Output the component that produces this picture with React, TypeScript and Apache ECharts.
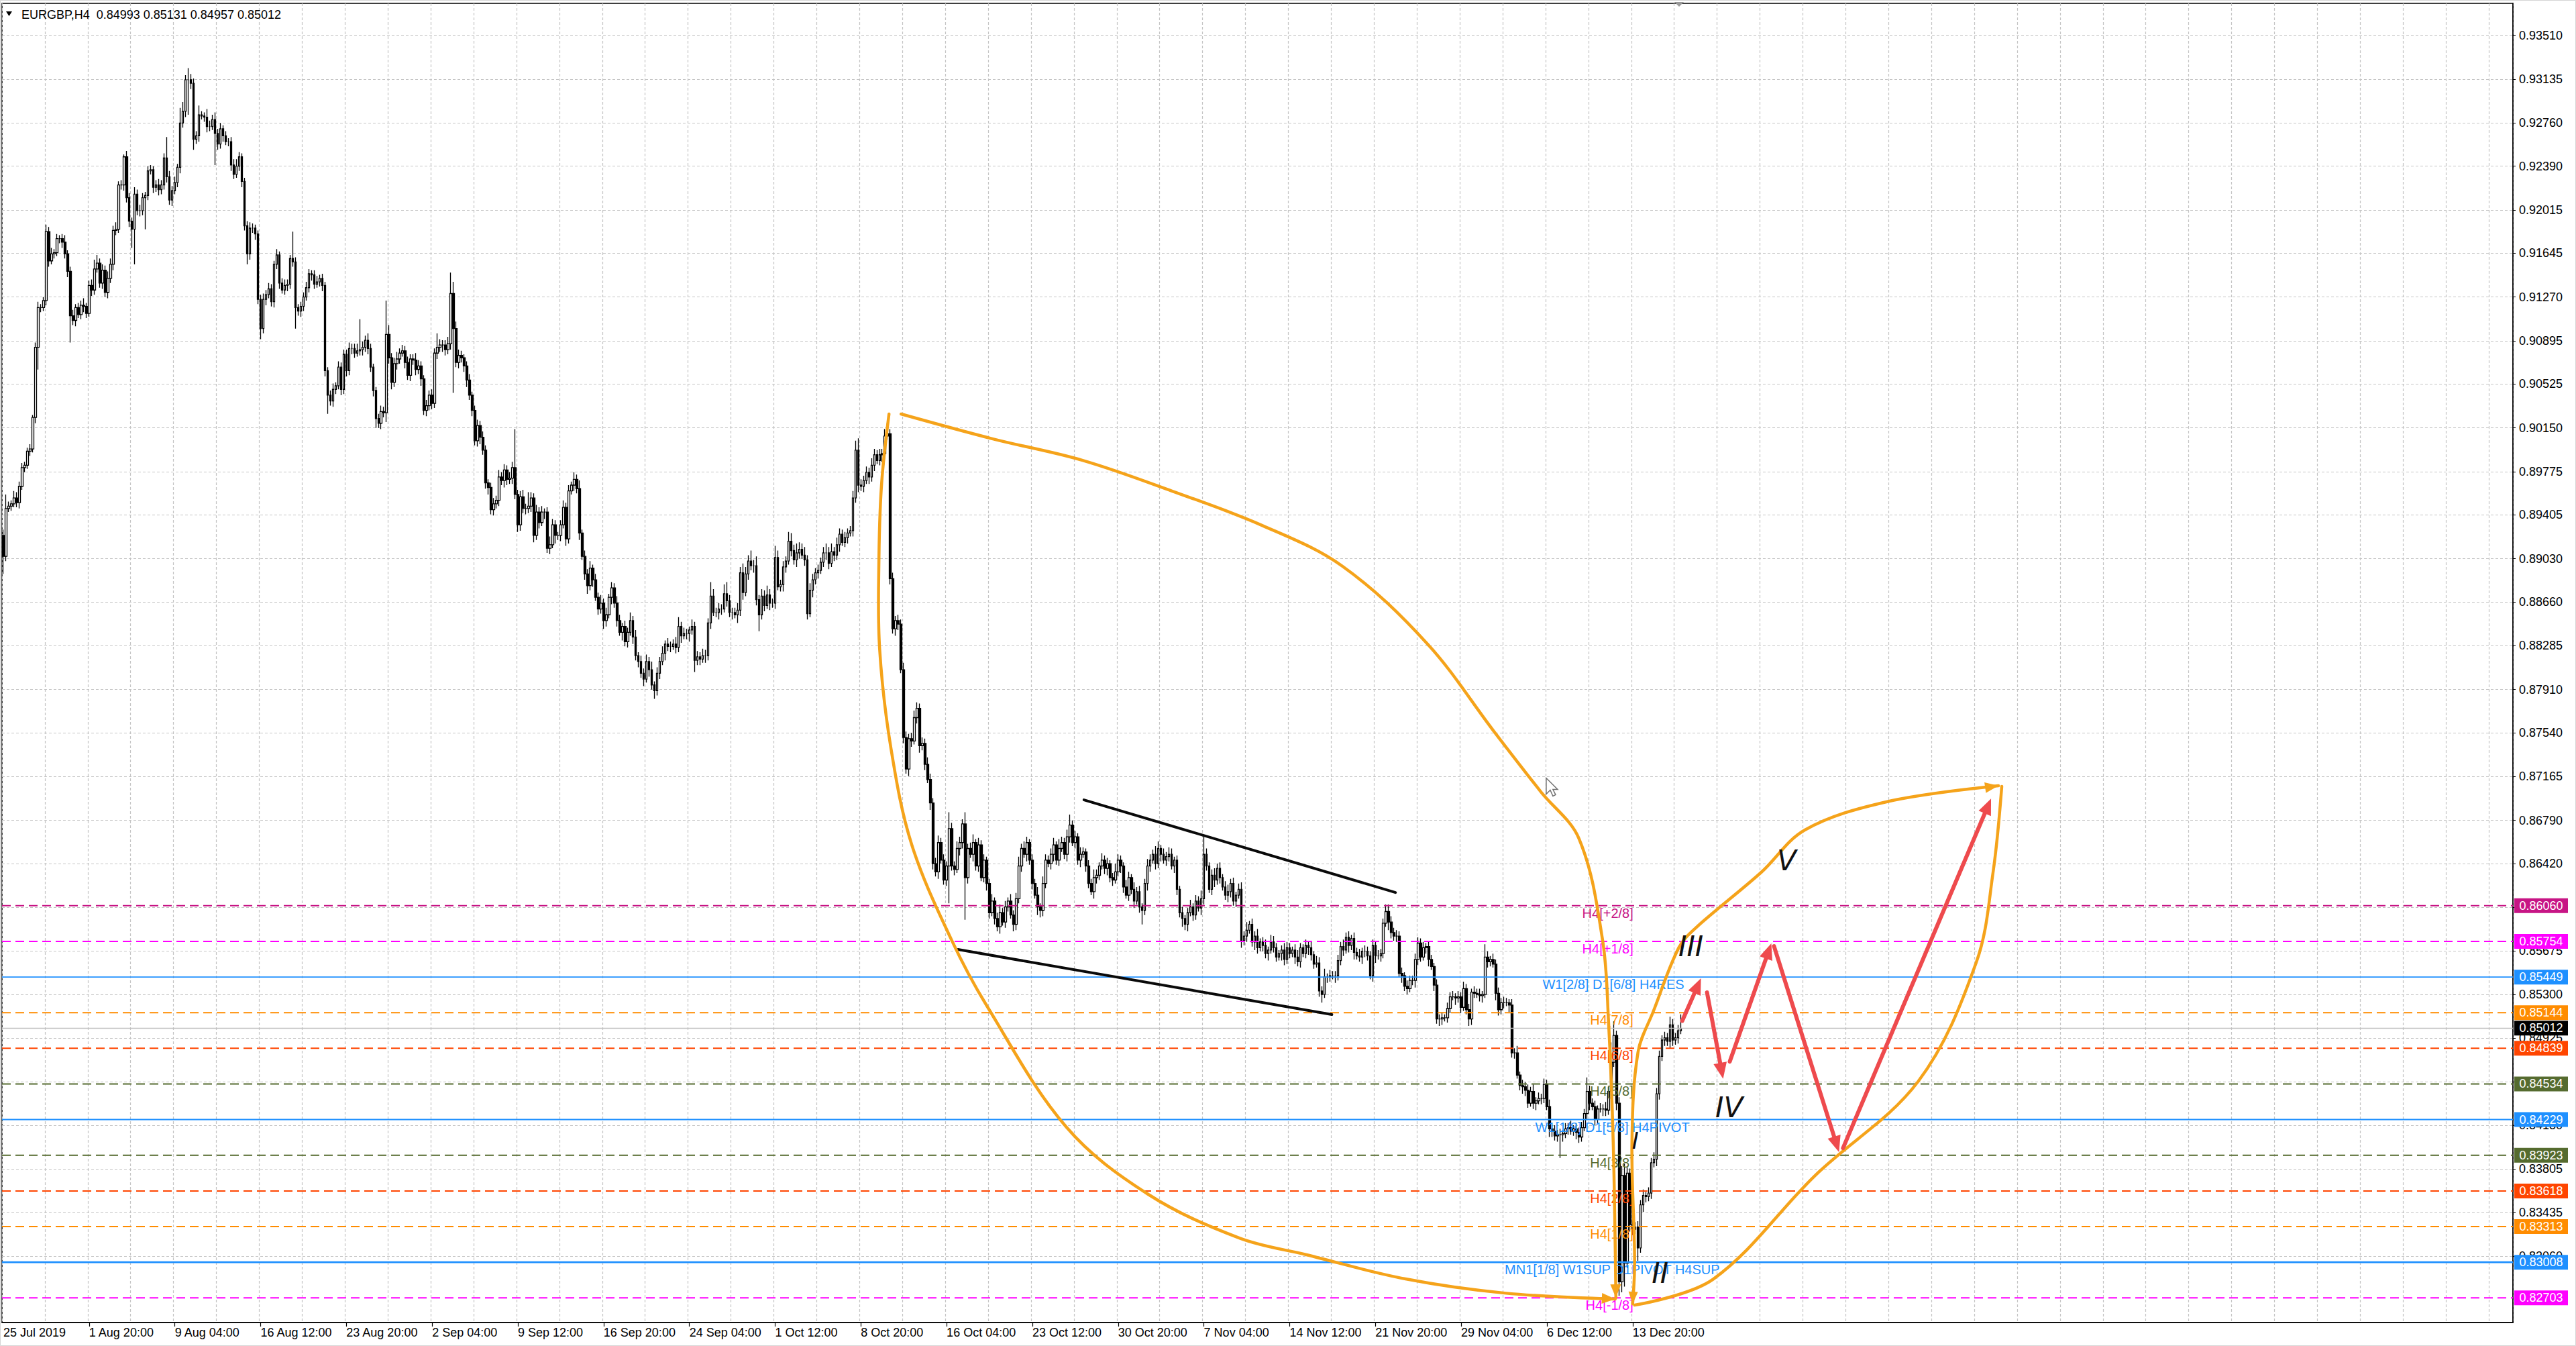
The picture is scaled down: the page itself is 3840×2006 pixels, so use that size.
import React, { useEffect, useRef } from 'react';
import * as echarts from 'echarts';

// ---------------- data ----------------
const chartTitle = 'EURGBP,H4  0.84993 0.85131 0.84957 0.85012';
const priceScale = 10000; // candle values below are in pips (1e-4)
const firstOpen = 8923;

// close of each H4 bar (pips), bar 0 = 25 Jul 2019 12:00
const closes = [
  8905,8946,8948,8950,8955,8951,8965,8981,8983,8995,8997,9024,9084,9118,9118,9124,9183,9158,9164,9165, // 0
  9177,9177,9174,9164,9149,9111,9107,9118,9112,9120,9119,9113,9137,9133,9151,9156,9139,9150,9131,9143, // 20
  9155,9184,9185,9223,9223,9247,9212,9192,9185,9215,9201,9201,9212,9214,9235,9236,9221,9223,9219,9223, // 40
  9246,9230,9210,9218,9225,9238,9276,9286,9313,9313,9310,9262,9265,9283,9282,9281,9273,9273,9279,9267, // 60
  9258,9271,9265,9260,9260,9240,9232,9239,9247,9226,9188,9164,9186,9186,9181,9125,9100,9125,9129,9134, // 80
  9123,9155,9163,9139,9133,9137,9138,9160,9157,9118,9115,9119,9127,9135,9147,9146,9138,9140,9143,9137, // 100
  9064,9043,9038,9048,9051,9067,9048,9078,9064,9083,9083,9079,9081,9082,9084,9090,9083,9067,9047,9023, // 120
  9019,9029,9028,9095,9075,9054,9070,9074,9079,9081,9071,9060,9074,9073,9065,9068,9057,9030,9034,9043, // 140
  9036,9079,9084,9086,9086,9082,9087,9130,9100,9071,9077,9075,9068,9056,9043,9030,9004,9017,9007,8996, // 160
  8968,8964,8945,8950,8953,8973,8970,8979,8971,8972,8981,8958,8932,8956,8946,8946,8948,8955,8923,8943, // 180
  8934,8943,8943,8912,8915,8932,8923,8923,8932,8947,8920,8961,8966,8971,8963,8925,8905,8890,8880,8895, // 200
  8885,8870,8860,8865,8850,8855,8870,8878,8865,8850,8840,8845,8832,8840,8850,8836,8820,8815,8805,8800, // 220
  8815,8808,8795,8790,8805,8815,8822,8830,8828,8828,8830,8827,8845,8837,8839,8839,8842,8845,8816,8819, // 240
  8817,8820,8820,8848,8871,8857,8857,8860,8860,8873,8867,8857,8857,8855,8859,8891,8874,8890,8901,8897, // 260
  8897,8868,8855,8871,8863,8872,8865,8865,8904,8879,8881,8896,8901,8918,8910,8902,8908,8911,8906,8902, // 280
  8856,8876,8885,8891,8893,8900,8908,8908,8899,8909,8906,8915,8924,8917,8921,8925,8927,8955,8996,8966, // 300
  8965,8970,8977,8973,8983,8992,8987,8992,8993,9008,9010,8886,8843,8850,8847,8808,8750,8723,8749,8747, // 320
  8767,8775,8743,8745,8727,8714,8694,8642,8635,8660,8645,8628,8640,8672,8640,8637,8655,8660,8676,8630, // 340
  8655,8650,8660,8640,8658,8630,8645,8625,8600,8610,8595,8588,8600,8592,8605,8610,8598,8590,8612,8640, // 360
  8655,8650,8660,8645,8625,8615,8605,8602,8625,8645,8642,8650,8658,8645,8655,8660,8650,8665,8675,8660, // 380
  8665,8645,8650,8652,8640,8625,8618,8630,8632,8640,8645,8638,8642,8630,8628,8635,8645,8640,8622,8615, // 400
  8630,8620,8610,8618,8605,8602,8625,8640,8645,8650,8642,8655,8650,8645,8648,8650,8640,8645,8620,8600, // 420
  8595,8590,8600,8605,8598,8610,8604,8612,8650,8640,8620,8632,8628,8638,8630,8622,8615,8618,8625,8610, // 440
  8615,8620,8576,8580,8585,8590,8575,8580,8570,8575,8572,8565,8568,8575,8570,8562,8565,8568,8560,8570, // 460
  8565,8568,8562,8558,8570,8565,8572,8570,8564,8556,8557,8533,8530,8545,8545,8546,8546,8546,8559,8571, // 480
  8568,8579,8572,8578,8566,8563,8562,8567,8567,8563,8546,8572,8563,8563,8565,8591,8601,8592,8583,8580, // 500
  8580,8548,8546,8537,8535,8542,8542,8560,8574,8562,8570,8571,8560,8554,8538,8509,8509,8510,8510,8518, // 520
  8528,8528,8527,8528,8519,8535,8517,8509,8532,8531,8530,8529,8530,8562,8558,8560,8556,8531,8517,8523, // 540
  8523,8523,8521,8480,8480,8461,8452,8451,8448,8437,8447,8437,8439,8441,8441,8453,8434,8415,8413,8409, // 560
  8410,8410,8411,8415,8416,8413,8415,8412,8408,8416,8428,8447,8437,8434,8423,8432,8432,8432,8431,8447, // 580
  8472,8495,8437,8284,8375,8300,8377,8333,8329,8331,8313,8350,8358,8357,8360,8386,8389,8445,8477,8491, // 600
  8493,8490,8504,8491,8493,8499,8501, // 620
];

// upper wick above the body (pips)
const upWick = [
  5,12,4,3,6,5,4,4,3,3,4,2,4,5,3,3,6,4,5,3,
  4,3,4,6,3,4,5,3,4,4,6,3,4,5,8,7,4,5,4,6,
  5,4,6,3,4,2,5,4,3,6,4,5,4,3,4,4,3,4,5,4,
  4,18,5,4,5,3,13,8,4,10,5,4,4,8,3,3,7,5,4,6,
  4,5,3,4,3,4,5,6,4,3,3,4,5,4,3,3,4,5,4,5,
  4,3,5,3,4,5,4,3,23,4,3,4,4,5,4,3,4,5,3,4,
  3,3,4,5,3,5,4,4,4,5,4,4,6,26,5,4,6,4,3,3,
  4,5,4,29,8,4,5,6,4,5,4,5,4,4,6,5,4,3,5,4,
  5,4,12,5,4,4,6,18,10,6,5,4,3,4,5,3,4,5,4,5,
  4,3,4,5,4,6,4,5,4,5,5,33,4,5,6,4,12,5,4,6,
  4,5,3,4,7,5,4,3,4,6,4,5,3,6,4,7,3,5,4,6,
  3,5,4,7,4,6,3,5,4,6,5,3,5,4,7,4,6,3,5,4,
  6,4,7,3,5,4,6,3,5,4,4,6,8,4,5,4,3,6,4,5,
  4,6,5,4,12,6,4,5,4,8,10,5,4,4,6,5,8,6,5,9,
  5,8,4,6,5,8,5,4,10,6,4,5,4,8,7,5,8,6,5,7,
  4,6,5,4,5,4,5,8,5,7,4,6,5,4,5,4,4,6,8,10,
  5,4,5,4,6,5,4,5,4,6,9,4,5,4,5,4,6,5,4,5,
  6,5,4,5,4,6,5,4,5,6,4,5,4,14,5,4,6,5,4,10,
  4,5,7,3,6,4,5,3,4,6,3,5,7,4,5,3,6,4,5,8,
  4,6,5,3,5,4,7,3,6,5,4,5,6,3,8,5,4,6,9,4,
  5,3,6,4,3,5,4,7,5,3,6,4,5,3,4,7,5,4,3,6,
  5,3,6,4,5,3,4,6,5,4,7,6,3,5,4,6,5,3,4,3,
  5,3,4,6,3,5,4,7,15,5,3,5,6,4,5,3,5,6,4,5,
  3,5,6,4,7,3,5,4,6,3,4,5,3,6,5,4,3,4,6,5,
  4,3,5,6,4,3,5,4,5,3,6,5,4,7,3,5,4,4,5,4,
  6,4,5,3,5,4,6,3,5,4,4,5,3,5,4,4,6,6,5,4,
  5,4,5,3,5,4,4,5,5,4,5,3,5,4,3,5,4,5,3,5,
  4,5,3,5,4,6,4,5,3,5,4,5,3,11,5,3,5,4,5,4,
  5,4,3,5,4,6,3,5,4,5,4,6,3,5,4,5,4,6,3,5,
  4,5,3,5,4,6,3,5,4,5,4,12,5,4,5,3,5,4,6,4,
  17,12,4,5,8,10,5,4,5,4,5,4,5,3,5,4,6,5,5,4,
  5,4,7,5,4,5,12,
];

// lower wick below the body (pips)
const downWick = [
  15,4,3,4,3,4,5,3,4,3,4,3,5,19,4,3,4,5,3,4,
  3,4,5,4,5,23,4,5,3,4,5,4,3,5,4,3,4,5,4,5,
  4,5,4,3,4,5,4,5,16,30,4,5,4,27,4,3,5,4,5,4,
  4,5,4,5,3,4,5,4,5,30,5,9,4,5,3,4,5,4,3,27,
  5,4,5,3,4,5,4,3,4,5,4,9,5,4,5,4,9,4,5,3,
  4,5,4,5,3,4,5,4,4,18,4,5,4,3,4,5,4,3,4,5,
  5,16,4,5,4,3,5,4,5,4,5,4,3,4,5,4,5,4,5,8,
  4,5,4,8,5,6,4,5,4,3,5,4,5,4,5,4,6,4,5,4,
  5,4,5,4,6,5,4,5,55,4,5,4,5,6,4,5,4,5,6,4,
  5,6,4,5,4,5,4,6,5,4,5,4,6,5,4,5,4,5,6,4,
  5,3,6,4,5,3,7,4,5,3,6,4,3,5,4,6,3,5,7,4,
  6,3,5,4,7,5,3,6,4,5,3,7,4,5,3,6,4,5,4,6,
  3,6,4,7,4,5,3,6,4,5,3,5,4,6,3,5,7,4,10,4,
  5,3,6,4,5,3,4,6,5,3,5,4,6,3,7,5,6,3,5,4,
  6,5,14,4,5,3,6,4,5,3,4,6,5,3,5,4,6,5,3,5,
  5,3,6,4,5,3,4,6,5,3,5,4,6,3,4,5,3,5,4,6,
  4,5,3,6,4,5,3,4,6,5,3,5,4,6,5,3,5,4,6,5,
  3,5,6,4,5,3,6,5,4,6,3,4,5,32,4,5,3,6,5,36,
  5,3,6,4,5,3,4,6,5,3,5,4,6,3,5,4,3,6,5,4,
  5,3,6,4,5,3,7,6,5,4,3,5,6,4,5,3,4,6,5,3,
  5,4,6,3,5,4,3,6,5,4,3,5,6,4,5,3,4,6,5,3,
  5,4,6,3,5,12,4,6,5,3,5,4,6,3,5,4,3,6,5,4,
  7,5,6,3,5,4,3,6,5,4,3,5,6,4,5,3,4,6,5,4,
  5,3,6,4,5,3,4,7,5,3,5,4,6,3,4,4,3,6,5,4,
  4,3,6,4,5,3,4,6,5,4,3,5,7,3,5,4,3,6,4,4,
  5,3,6,4,6,3,4,6,5,4,3,5,6,3,5,4,3,7,5,4,
  5,3,6,4,5,3,4,6,5,4,3,5,6,3,5,4,6,5,3,4,
  4,3,6,4,5,3,4,6,5,4,3,5,6,3,5,4,3,6,5,4,
  5,3,6,4,5,3,4,6,5,4,3,5,6,3,5,4,3,7,5,4,
  5,20,6,4,5,3,4,6,5,4,3,5,6,3,5,4,3,6,5,4,
  5,4,6,12,9,20,4,6,5,4,11,4,6,5,4,5,4,6,5,4,
  5,4,6,5,4,5,3,
];

const slotCount = 937; // bars that fit the visible window (incl. empty space on the right)
const xTickStep = 32;
const xGridStep = 16;
const xTickLabels = [
  '25 Jul 2019', '1 Aug 20:00', '9 Aug 04:00', '16 Aug 12:00', '23 Aug 20:00', '2 Sep 04:00',
  '9 Sep 12:00', '16 Sep 20:00', '24 Sep 04:00', '1 Oct 12:00', '8 Oct 20:00', '16 Oct 04:00',
  '23 Oct 12:00', '30 Oct 20:00', '7 Nov 04:00', '14 Nov 12:00', '21 Nov 20:00', '29 Nov 04:00',
  '6 Dec 12:00', '13 Dec 20:00',
];
const yTickValues = [
  0.93510, 0.93135, 0.92760, 0.92390, 0.92015, 0.91645, 0.91270, 0.90895, 0.90525, 0.90150,
  0.89775, 0.89405, 0.89030, 0.88660, 0.88285, 0.87910, 0.87540, 0.87165, 0.86790, 0.86420,
  0.86045, 0.85675, 0.85300, 0.84925, 0.84555, 0.84180, 0.83805, 0.83435, 0.83060,
];
const yMin = 0.82492;
const yMax = 0.93784;

const levelValues = [0.86060, 0.85754, 0.85449, 0.85144, 0.84839, 0.84534, 0.84229, 0.83923, 0.83618, 0.83313, 0.83008, 0.82703];
const levelNames = [
  'H4[+2/8]', 'H4[+1/8]', 'W1[2/8] D1[6/8] H4RES', 'H4[7/8]', 'H4[6/8]', 'H4[5/8]',
  'W1[1/8] D1[5/8] H4PIVOT', 'H4[3/8]', 'H4[2/8]', 'H4[1/8]', 'MN1[1/8] W1SUP D1PIVOT H4SUP', 'H4[-1/8]',
];
const currentPrice = 0.85012;

// hand drawings, anchored as (bar index, price)
const leafLeftCurve = [
  [330.5, 0.90269], [327.75, 0.89677], [326.75, 0.89045], [327, 0.88258], [331.25, 0.87403], [339, 0.86581],
  [353.75, 0.85771], [367, 0.85203], [396.75, 0.84163], [427.25, 0.83589], [461.25, 0.83215], [486.25, 0.83072],
  [523.25, 0.82865], [560.25, 0.82744], [601.5, 0.82693],
];
const leafRightCurve = [
  [335, 0.90269], [369.25, 0.90056], [402.75, 0.89872], [436.25, 0.89608], [469.75, 0.89315], [499.75, 0.88965],
  [531.5, 0.88299], [556.25, 0.87552], [573.75, 0.87035], [588, 0.86633], [596.75, 0.85771], [599, 0.85068],
  [600.75, 0.84037], [601.75, 0.82704],
];
const waveInnerCurve = [
  [608, 0.82652], [608.75, 0.83014], [607.75, 0.84037], [610, 0.84806], [615.75, 0.85157], [625.25, 0.85702],
  [631.5, 0.85869], [656, 0.86346], [672.25, 0.86708], [702.75, 0.86949], [744.5, 0.87087],
];
const waveOuterCurve = [
  [608.75, 0.82641], [638, 0.82862], [676.25, 0.83754], [714.5, 0.84554], [736.25, 0.85576], [742.5, 0.86346],
  [745.75, 0.87081],
];
const trendLines = [
  [[403.25, 0.86966], [519.5, 0.86173]],
  [[356.25, 0.85685], [495.75, 0.85128]],
];
const forecastArrows = [
  [[626.5, 0.85074], [633.5, 0.85438]],
  [[635.75, 0.85318], [641.75, 0.84579]],
  [[644.25, 0.84726], [659.75, 0.85737]],
  [[660.75, 0.85714], [685, 0.83951]],
  [[686.5, 0.83985], [741.75, 0.86977]],
];
const waveLabels = ['I', 'II', 'III', 'IV', 'V'];
const waveLabelAt = [[609, 0.84048], [618.25, 0.82917], [629.75, 0.85714], [644, 0.8433], [665.5, 0.86449]];
const cursorAt = [575.75, 0.87153];

// ---------------- styles ----------------
const levelColors = ['#C71585', '#FF00FF', '#1E90FF', '#FF8C00', '#FF4500', '#556B2F', '#1E90FF', '#556B2F', '#FF4500', '#FF8C00', '#1E90FF', '#FF00FF'];
const levelDashed = [true, true, false, true, true, true, false, true, true, true, false, true];
const levelWidth = [2, 2, 1.6, 2, 2, 2, 2, 2, 2, 2, 2.6, 2];
const levelLabelEnd = [608.25, 608.25, 627.25, 608.25, 608.25, 608.25, 629.25, 608.25, 608.25, 608.25, 640.5, 608.25];
const GRID = { left: 3, right: 94, top: 5, bottom: 35 };
const W = 3840;
const H = 2006;
const FONT = '"Liberation Sans", Arial, sans-serif';
const ORANGE = '#F5A31A';
const RED = '#EE4A4D';

export default function App() {
  const ref = useRef<HTMLDivElement>(null);

  useEffect(() => {
    const chart = echarts.init(ref.current as HTMLDivElement, null, { renderer: 'svg', width: W, height: H });

    const candles = closes.map((c, i) => {
      const o = i === 0 ? firstOpen : closes[i - 1];
      const hi = Math.max(o, c) + upWick[i];
      const lo = Math.min(o, c) - downWick[i];
      return [o / priceScale, c / priceScale, lo / priceScale, hi / priceScale];
    });
    const cats = Array.from({ length: slotCount }, (_, i) => String(i));

    chart.setOption({
      animation: false,
      backgroundColor: '#ffffff',
      grid: { ...GRID, show: true, borderColor: '#000', borderWidth: 1.5, backgroundColor: 'transparent' },
      xAxis: {
        type: 'category',
        data: cats,
        boundaryGap: true,
        axisLine: { show: true, lineStyle: { color: '#000', width: 1.5 } },
        axisTick: {
          show: true,
          alignWithLabel: true,
          length: 6,
          interval: (i: number) => i > 0 && i % xTickStep === 0 && i / xTickStep < xTickLabels.length,
          lineStyle: { color: '#000', width: 1.2 },
        },
        axisLabel: {
          show: true,
          interval: (i: number) => i % xTickStep === 0 && i / xTickStep < xTickLabels.length,
          formatter: (_v: string, i: number) => xTickLabels[i / xTickStep] || '',
          align: 'left',
          margin: 6,
          fontSize: 18,
          fontFamily: FONT,
          color: '#000',
        },
        splitLine: {
          show: true,
          interval: (i: number) => i % xGridStep === 0,
          lineStyle: { color: '#c4c4c4', type: [4, 3], width: 1.2 },
        },
      },
      yAxis: {
        type: 'value',
        position: 'right',
        min: yMin,
        max: yMax,
        scale: true,
        axisLine: { show: true, lineStyle: { color: '#000', width: 1.5 } },
        axisTick: { show: true, customValues: yTickValues, length: 4, lineStyle: { color: '#000' } },
        axisLabel: {
          customValues: yTickValues,
          formatter: (v: number) => v.toFixed(5),
          margin: 9,
          fontSize: 18,
          fontFamily: FONT,
          color: '#000',
        },
        splitLine: { show: true, lineStyle: { color: '#c4c4c4', type: [4, 3], width: 1.2 } },
      },
      series: [
        {
          type: 'candlestick',
          data: candles,
          barWidth: 3,
          large: false,
          progressive: 0,
          itemStyle: { color: '#ffffff', color0: '#000000', borderColor: '#000000', borderColor0: '#000000', borderWidth: 1.3 },
          emphasis: { disabled: true },
        },
      ],
    });

    // pixel helpers via the chart's own axes
    const a = chart.convertToPixel({ gridIndex: 0 }, [0, yMin]) as number[];
    const b = chart.convertToPixel({ gridIndex: 0 }, [100, yMax]) as number[];
    const toX = (bar: number) => a[0] + ((b[0] - a[0]) * bar) / 100;
    const toY = (v: number) => (chart.convertToPixel({ gridIndex: 0 }, [0, v]) as number[])[1];
    const toPx = (p: number[]) => [toX(p[0]), toY(p[1])];

    const g: any[] = [];
    const arrowHead = (from: number[], to: number[], len: number, half: number, color: string, z: number) => {
      const dx = to[0] - from[0];
      const dy = to[1] - from[1];
      const d = Math.hypot(dx, dy) || 1;
      const ux = dx / d;
      const uy = dy / d;
      const bx = to[0] - ux * len;
      const by = to[1] - uy * len;
      return {
        type: 'polygon', z, silent: true,
        shape: { points: [to, [bx - uy * half, by + ux * half], [bx + uy * half, by - ux * half]] },
        style: { fill: color },
      };
    };
    const txt = (x: number, y: number, text: string, s: any, z: number) => ({
      type: 'text', x, y, z, silent: true,
      style: { text, ...s },
    });

    const plotLeft = GRID.left;
    const plotRight = W - GRID.right;

    // window border
    g.push({ type: 'rect', z: 1, silent: true, shape: { x: 0.5, y: 0.5, width: W - 1, height: H - 1 }, style: { fill: 'none', stroke: '#d4d4d4', lineWidth: 1 } });

    // title
    g.push({ type: 'polygon', z: 80, silent: true, shape: { points: [[9, 17], [18, 17], [13.5, 24]] }, style: { fill: '#000' } });
    g.push(txt(32, 22, chartTitle, { fill: '#000', fontSize: 18, fontFamily: FONT, align: 'left', verticalAlign: 'middle', textAlign: 'left', textVerticalAlign: 'middle' }, 80));
    // chart shift marker
    g.push({ type: 'polygon', z: 80, silent: true, shape: { points: [[2496, 3], [2510, 3], [2503, 10]] }, style: { fill: '#9a9a9a' } });

    // current price line
    {
      const y = Math.round(toY(currentPrice)) + 0.5;
      g.push({ type: 'line', z: 40, silent: true, shape: { x1: plotLeft, y1: y, x2: plotRight, y2: y }, style: { stroke: '#c0c0c0', lineWidth: 1.6 } });
    }

    // level lines, labels and right axis price tags
    levelValues.forEach((v, i) => {
      const y = toY(v);
      g.push({
        type: 'line', z: 42, silent: true,
        shape: { x1: plotLeft, y1: y, x2: plotRight, y2: y },
        style: { stroke: levelColors[i], lineWidth: levelWidth[i], lineDash: levelDashed[i] ? [13, 7] : null },
      });
      g.push(txt(toX(levelLabelEnd[i]), y + 1, levelNames[i], {
        fill: levelColors[i], fontSize: 20, fontFamily: FONT,
        align: 'right', verticalAlign: 'top', textAlign: 'right', textVerticalAlign: 'top',
      }, 55));
      g.push({ type: 'rect', z: 90, silent: true, shape: { x: plotRight + 2, y: y - 11, width: 80, height: 22 }, style: { fill: levelColors[i] } });
      g.push(txt(plotRight + 42, y, v.toFixed(5), {
        fill: '#fff', fontSize: 18, fontFamily: FONT,
        align: 'center', verticalAlign: 'middle', textAlign: 'center', textVerticalAlign: 'middle',
      }, 91));
    });
    {
      const y = toY(currentPrice);
      g.push({ type: 'rect', z: 92, silent: true, shape: { x: plotRight + 2, y: y - 11, width: 80, height: 22 }, style: { fill: '#000' } });
      g.push(txt(plotRight + 42, y, currentPrice.toFixed(5), {
        fill: '#fff', fontSize: 18, fontFamily: FONT,
        align: 'center', verticalAlign: 'middle', textAlign: 'center', textVerticalAlign: 'middle',
      }, 93));
    }

    // black trend lines
    trendLines.forEach(([p, q]) => {
      const P = toPx(p);
      const Q = toPx(q);
      g.push({ type: 'line', z: 60, silent: true, shape: { x1: P[0], y1: P[1], x2: Q[0], y2: Q[1] }, style: { stroke: '#0a0a0a', lineWidth: 4, lineCap: 'round' } });
    });

    // orange curves
    const curve = (pts: number[][], headAtEnd: boolean) => {
      const px = pts.map(toPx);
      g.push({ type: 'polyline', z: 62, silent: true, shape: { points: px, smooth: 0.35 }, style: { stroke: ORANGE, lineWidth: 4.5, fill: 'none', lineCap: 'round', lineJoin: 'round' } });
      if (headAtEnd) g.push(arrowHead(px[px.length - 2], px[px.length - 1], 20, 8, ORANGE, 63));
    };
    curve(leafLeftCurve, true);
    curve(leafRightCurve, true);
    curve(waveInnerCurve, true);
    curve(waveOuterCurve, false);
    {
      const p = toPx(waveInnerCurve[0]);
      const q = toPx(waveInnerCurve[1]);
      g.push(arrowHead(q, p, 18, 7, ORANGE, 63));
    }

    // red forecast arrows
    forecastArrows.forEach(([p, q]) => {
      const P = toPx(p);
      const Q = toPx(q);
      const dx = Q[0] - P[0];
      const dy = Q[1] - P[1];
      const d = Math.hypot(dx, dy);
      const E = [Q[0] - (dx / d) * 14, Q[1] - (dy / d) * 14];
      g.push({ type: 'line', z: 64, silent: true, shape: { x1: P[0], y1: P[1], x2: E[0], y2: E[1] }, style: { stroke: RED, lineWidth: 6, lineCap: 'round' } });
      g.push(arrowHead(P, Q, 24, 10, RED, 65));
    });

    // wave count labels
    waveLabels.forEach((t, i) => {
      const P = toPx(waveLabelAt[i]);
      g.push(txt(P[0], P[1], t, {
        fill: '#111', fontSize: t === 'I' ? 34 : 42, fontFamily: '"DejaVu Sans", sans-serif', fontStyle: 'italic',
        align: 'center', verticalAlign: 'middle', textAlign: 'center', textVerticalAlign: 'middle',
      }, 66));
    });

    // mouse pointer left on the chart
    {
      const P = toPx(cursorAt);
      const rel = [[0, 0], [0, 24], [6, 18], [10, 27], [14, 25], [10, 17], [17, 17]];
      g.push({
        type: 'polygon', z: 67, silent: true,
        shape: { points: rel.map(([x, y]) => [P[0] + x, P[1] + y]) },
        style: { fill: '#ffffff', stroke: '#707070', lineWidth: 1.5 },
      });
    }

    chart.setOption({ graphic: g });

    return () => chart.dispose();
  }, []);

  return <div ref={ref} style={{ position: 'absolute', left: 0, top: 0, width: W, height: H }} />;
}
